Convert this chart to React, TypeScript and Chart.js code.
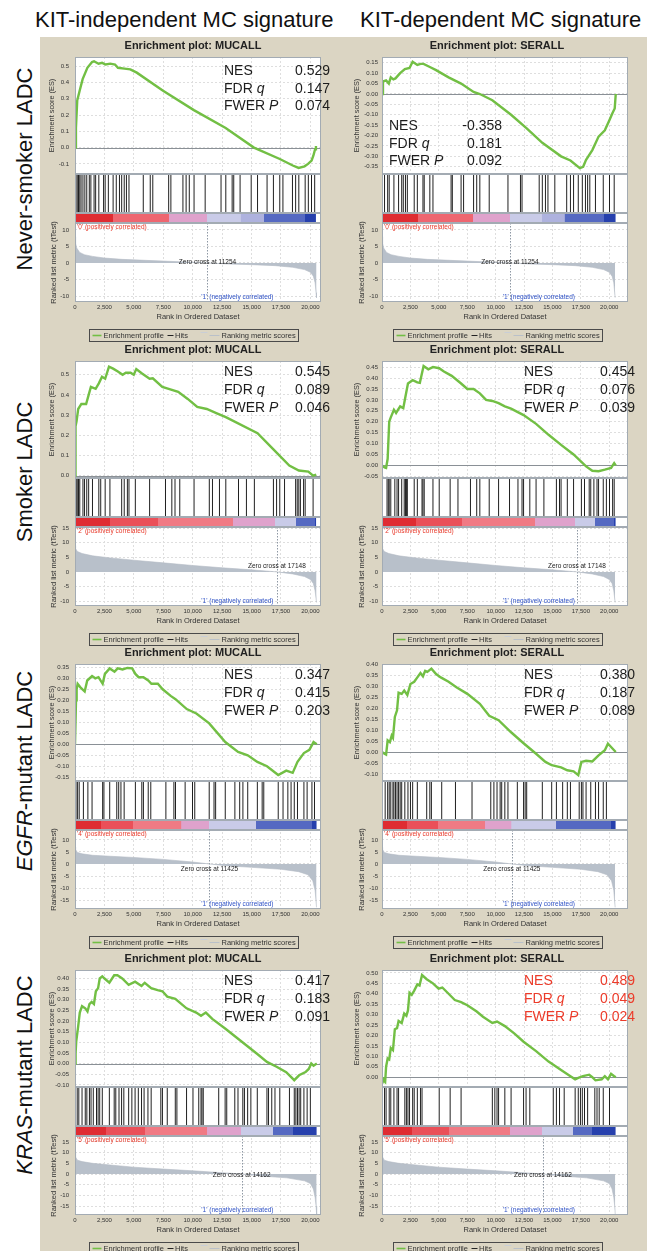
import React, { useEffect, useRef } from "react";
import { Chart, registerables } from "chart.js";

Chart.register(...registerables);

const FONT = '"Liberation Sans", Arial, Helvetica, sans-serif';
Chart.defaults.font.family = FONT;

type Pt = [number, number];

// ---------------- texts ----------------
const columnHeaders = ["KIT-independent MC signature", "KIT-dependent MC signature"];
const rowLabels: [string, string][] = [
  ["", "Never-smoker LADC"],
  ["", "Smoker LADC"],
  ["EGFR", "-mutant LADC"],
  ["KRAS", "-mutant LADC"],
];
const plotTitles = ["Enrichment plot: MUCALL", "Enrichment plot: SERALL"];
const positiveLabels = [
  "'0' (positively correlated)",
  "'2' (positively correlated)",
  "'4' (positively correlated)",
  "'5' (positively correlated)",
];
const negativeLabel = "'1' (negatively correlated)";
const legendLabels = ["Enrichment profile", "Hits", "Ranking metric scores"];
const statLabels: [string, string][] = [["NES", ""], ["FDR ", "q"], ["FWER ", "P"]];
const esAxisTitle = "Enrichment score (ES)";
const metricAxisTitle = "Ranked list metric (tTest)";
const rankAxisTitle = "Rank in Ordered Dataset";

// ---------------- shared axis ticks ----------------
const rankTicks = [0, 2500, 5000, 7500, 10000, 12500, 15000, 17500, 20000];
const zeroCross = [11254, 17148, 11425, 14162];

// ---------------- stats ----------------
const statsNeverMucall = ["0.529", "0.147", "0.074"];
const statsNeverSerall = ["-0.358", "0.181", "0.092"];
const statsSmokerMucall = ["0.545", "0.089", "0.046"];
const statsSmokerSerall = ["0.454", "0.076", "0.039"];
const statsEgfrMucall = ["0.347", "0.415", "0.203"];
const statsEgfrSerall = ["0.380", "0.187", "0.089"];
const statsKrasMucall = ["0.417", "0.183", "0.091"];
const statsKrasSerall = ["0.489", "0.049", "0.024"];

// ---------------- ES tick labels ----------------
const esTicksNeverMucall = [-0.1, 0, 0.1, 0.2, 0.3, 0.4, 0.5];
const esTicksNeverSerall = [-0.35, -0.3, -0.25, -0.2, -0.15, -0.1, -0.05, 0, 0.05, 0.1, 0.15];
const esTicksSmokerMucall = [0, 0.1, 0.2, 0.3, 0.4, 0.5];
const esTicksSmokerSerall = [-0.05, 0, 0.05, 0.1, 0.15, 0.2, 0.25, 0.3, 0.35, 0.4, 0.45];
const esTicksEgfrMucall = [-0.15, -0.1, -0.05, 0, 0.05, 0.1, 0.15, 0.2, 0.25, 0.3, 0.35];
const esTicksEgfrSerall = [-0.1, -0.05, 0, 0.05, 0.1, 0.15, 0.2, 0.25, 0.3, 0.35, 0.4];
const esTicksKrasMucall = [-0.1, -0.05, 0, 0.05, 0.1, 0.15, 0.2, 0.25, 0.3, 0.35, 0.4];
const esTicksKrasSerall = [0, 0.05, 0.1, 0.15, 0.2, 0.25, 0.3, 0.35, 0.4, 0.45, 0.5];

// ---------------- metric tick labels ----------------
const metricTicksNever = [-10, -5, 0, 5, 10];
const metricTicksSmoker = [-10, -5, 0, 5, 10, 15];
const metricTicksEgfr = [-15, -10, -5, 0, 5, 10];
const metricTicksKras = [-15, -10, -5, 0, 5, 10, 15];

// ---------------- enrichment profiles [rank, ES] ----------------
const esNeverMucall: Pt[] = [[0,0],[80,0.12],[190,0.29],[400,0.35],[650,0.42],[1050,0.49],[1450,0.525],[1620,0.53],[2000,0.515],[2300,0.52],[2600,0.51],[3000,0.515],[3400,0.51],[3650,0.49],[4200,0.485],[4700,0.48],[5250,0.46],[7450,0.35],[10100,0.23],[12800,0.12],[15200,0.0],[17400,-0.07],[18500,-0.11],[19000,-0.125],[19500,-0.115],[19800,-0.1],[20100,-0.08],[20250,-0.05],[20400,-0.01],[20470,0.01]];
const esNeverSerall: Pt[] = [[0,0],[85,0.06],[360,0.065],[600,0.05],[772,0.08],[1000,0.07],[1185,0.075],[1597,0.1],[2010,0.12],[2422,0.125],[2697,0.155],[3110,0.14],[3400,0.145],[3660,0.145],[4210,0.13],[4760,0.115],[5860,0.08],[6960,0.05],[8060,0.01],[8610,0.0],[9710,-0.03],[11360,-0.1],[12735,-0.165],[14110,-0.235],[15760,-0.3],[16585,-0.32],[17410,-0.357],[17700,-0.35],[17960,-0.317],[18510,-0.27],[19060,-0.205],[19610,-0.175],[20022,-0.125],[20297,-0.09],[20480,-0.07],[20572,0.0]];
const esSmokerMucall: Pt[] = [[0,0],[30,0.12],[60,0.245],[136,0.27],[271,0.33],[541,0.355],[945,0.355],[1161,0.4],[1350,0.44],[1754,0.43],[2024,0.457],[2294,0.49],[2563,0.48],[2887,0.54],[3238,0.53],[3642,0.516],[4047,0.5],[4316,0.51],[4721,0.51],[4991,0.5],[5206,0.528],[5665,0.507],[6339,0.48],[6609,0.482],[7418,0.44],[7957,0.43],[8767,0.415],[9576,0.38],[10385,0.34],[11194,0.33],[12003,0.31],[12812,0.29],[15509,0.21],[16857,0.13],[18206,0.05],[19015,0.025],[19824,0.02],[20229,0.0],[20498,0.005]];
const esSmokerSerall: Pt[] = [[0,0],[223,-0.01],[360,-0.012],[498,0.03],[635,0.2],[773,0.22],[1048,0.255],[1240,0.24],[1598,0.27],[1873,0.262],[2065,0.315],[2285,0.375],[2698,0.39],[3110,0.38],[3330,0.378],[3660,0.455],[4073,0.44],[4485,0.45],[5035,0.445],[5448,0.43],[6135,0.41],[6960,0.375],[7510,0.35],[8060,0.35],[8610,0.33],[9160,0.3],[9710,0.295],[10260,0.285],[10810,0.27],[11360,0.26],[11910,0.245],[12460,0.23],[13560,0.19],[14660,0.14],[15760,0.094],[16860,0.05],[17960,-0.005],[18510,-0.025],[19060,-0.027],[19610,-0.02],[20160,-0.012],[20435,0.01],[20573,0.0]];
const esEgfrMucall: Pt[] = [[0,0],[86,0.2],[140,0.25],[222,0.275],[440,0.26],[822,0.24],[1040,0.29],[1449,0.31],[1722,0.3],[1994,0.305],[2349,0.275],[2540,0.32],[2949,0.345],[3358,0.33],[3631,0.345],[4040,0.34],[4449,0.347],[4858,0.345],[5130,0.32],[5403,0.305],[5812,0.305],[6221,0.29],[6494,0.275],[7039,0.275],[7448,0.25],[8130,0.22],[8539,0.205],[9494,0.16],[10312,0.14],[11403,0.095],[12766,0.01],[13857,-0.035],[14675,-0.05],[15493,-0.08],[16311,-0.1],[17266,-0.14],[17948,-0.12],[18494,-0.13],[18903,-0.08],[19448,-0.04],[19912,-0.025],[20266,0.01],[20538,0.0]];
const esEgfrSerall: Pt[] = [[0,0],[223,-0.008],[360,-0.012],[498,0.053],[690,0.045],[855,0.075],[965,0.065],[1130,0.16],[1323,0.19],[1460,0.27],[1735,0.265],[1955,0.28],[2230,0.26],[2505,0.31],[2835,0.32],[3110,0.34],[3385,0.36],[3605,0.345],[3798,0.37],[3990,0.365],[4348,0.38],[4760,0.355],[5173,0.34],[5860,0.32],[6548,0.295],[7510,0.265],[8610,0.22],[9435,0.165],[10260,0.145],[11360,0.09],[12460,0.04],[13560,-0.008],[14385,-0.045],[14935,-0.06],[15760,-0.07],[16310,-0.083],[16860,-0.088],[17273,-0.105],[17548,-0.045],[17960,-0.04],[18510,-0.043],[19060,-0.015],[19610,0.008],[19885,0.038],[20160,0.023],[20573,0.0]];
const esKrasMucall: Pt[] = [[0,0],[51,0.05],[106,0.105],[270,0.175],[407,0.24],[598,0.27],[871,0.26],[1062,0.245],[1226,0.28],[1417,0.29],[1608,0.28],[1772,0.34],[1964,0.355],[2100,0.4],[2319,0.41],[2510,0.4],[2919,0.38],[3330,0.415],[3603,0.415],[4013,0.4],[4559,0.37],[5105,0.385],[5652,0.365],[5925,0.38],[6471,0.355],[7018,0.345],[7428,0.34],[7838,0.315],[8521,0.305],[9477,0.26],[10296,0.24],[10706,0.225],[11116,0.24],[11663,0.21],[12755,0.165],[14121,0.105],[15487,0.045],[16307,0.008],[17126,-0.015],[17946,-0.04],[18629,-0.078],[19039,-0.055],[19585,-0.04],[19858,-0.025],[20077,0.0],[20268,-0.01],[20541,0.0]];
const esKrasSerall: Pt[] = [[0,0],[85,-0.01],[278,-0.022],[360,0.05],[498,0.09],[635,0.085],[773,0.14],[965,0.13],[1130,0.23],[1323,0.235],[1460,0.27],[1735,0.26],[1955,0.305],[2148,0.295],[2285,0.32],[2423,0.405],[2615,0.395],[2835,0.415],[3110,0.445],[3303,0.44],[3523,0.49],[3935,0.47],[4485,0.45],[4980,0.425],[5310,0.43],[5860,0.4],[6410,0.37],[6960,0.36],[7510,0.345],[8335,0.315],[8885,0.29],[9710,0.26],[10123,0.267],[10810,0.245],[11635,0.21],[12460,0.17],[13560,0.125],[14660,0.075],[15760,0.035],[16585,0.005],[16998,-0.01],[17273,-0.003],[17685,0.005],[18235,0.012],[18510,0.0],[18785,-0.015],[19335,-0.01],[19610,0.005],[19885,-0.01],[20160,0.016],[20435,0.005],[20573,0.0]];

// ---------------- hits (ranks of gene-set members) ----------------
const hitsNeverMucall = [82,190,298,406,514,675,837,999,1215,1350,1620,1754,2024,2429,2563,2833,3238,3507,3777,3966,4182,4370,4586,5800,6393,6609,7957,8146,9170,9440,9710,10115,11059,12407,12812,13351,13486,14025,14969,15509,16318,16857,17397,17666,18475,18745,19015,19554,19824,20093,20363];
const hitsNeverSerall = [223,498,635,1048,1460,1735,1873,2065,2230,2835,3110,3605,3715,4210,4485,6080,6190,6960,7180,8060,8335,8610,9435,11085,12185,12323,13835,14110,14385,14605,15210,16255,16585,16860,17273,17630,17905,18098,18290,18785,19473,20023,20435];
const hitsSmokerMucall = [30,100,190,298,406,675,810,999,1161,1485,2024,2186,2563,2968,3966,4182,4451,4586,5126,6339,7688,8227,8497,8901,10115,11410,11680,12273,12812,13891,14565,15239,16857,17127,17397,17802,18745,18880,19015,19150,19420,19554,20229];
const hitsSmokerSerall = [443,553,635,773,1130,1323,1460,1735,1955,2065,2148,2230,2835,3110,3523,3605,3715,4485,5035,5998,6685,7785,8335,8610,9435,10260,11223,11965,12323,12460,13010,13560,14248,15348,15623,15760,16310,16860,17548,17823,18235,18373,18648,18923,19060,19473,19748,20023,20298,20435];
const hitsEgfrMucall = [86,222,358,713,1094,1449,2349,2458,2949,3549,3712,3903,4176,5130,5676,5812,6221,6439,7721,8403,8539,9357,9984,10175,11403,11812,11948,12766,13584,13993,14266,14675,15493,15902,16038,17266,17675,18084,18357,18629,18902,19448,19720,20129,20347];
const hitsEgfrSerall = [278,498,635,773,965,1048,1185,1323,1460,1598,1735,2010,2285,2505,2698,3110,3935,4210,4348,5255,6465,7923,9573,9848,10123,10398,10535,10810,11085,11910,12460,12598,12735,14110,14935,15348,15898,16310,16585,17355,17548,17685,17960,18373,18785,19060,19473,19748];
const hitsKrasMucall = [188,324,598,871,1007,1226,1363,1554,1827,1964,2100,2319,2919,3330,3466,3739,3958,4149,4559,4832,5105,5379,5652,5870,6198,6471,7291,7428,7838,8521,8657,9477,10023,10515,10706,10788,10897,12209,12755,12892,13575,13848,14258,14395,14668,14941,15487,16307,16443,16716,16990,17400,18219,18629,18766,18902,19039,19176,19449,19722,19995];
const hitsKrasSerall = [223,360,635,773,1048,1323,1460,2010,2148,2285,2423,2698,2835,3110,3385,3523,5035,5998,6960,9710,9930,10123,10260,10810,11360,12460,12680,13010,15073,15348,15623,16035,16998,17273,17465,17630,17823,18098,18730,18923,19115,19473,20023];

// ---------------- ranked list metric [rank, tTest] ----------------
const metricNever: Pt[] = [[0,8],[50,6],[150,4.5],[400,3.2],[800,2.5],[1500,2],[2500,1.5],[4000,1.1],[6000,0.8],[8000,0.5],[10000,0.2],[11254,0],[13000,-0.3],[15000,-0.5],[17000,-0.8],[18500,-1.3],[19500,-2],[20000,-2.8],[20250,-4],[20400,-6],[20480,-9],[20520,-10.5]];
const metricSmoker: Pt[] = [[0,9],[50,8],[200,7],[600,6.3],[1500,5.5],[3000,4.8],[5000,4],[7500,3.1],[10000,2.2],[12500,1.4],[15000,0.7],[17148,0],[18500,-0.7],[19500,-1.6],[20000,-2.6],[20250,-4],[20400,-6.5],[20520,-10.5]];
const metricEgfr: Pt[] = [[0,7],[50,6],[200,4.8],[600,4.2],[1500,3.6],[3000,3.2],[5000,2.7],[7500,1.9],[10000,0.8],[11425,0],[13000,-0.8],[15000,-1.4],[17500,-2.2],[19000,-3.2],[19800,-4.5],[20200,-7],[20400,-11],[20520,-18]];
const metricKras: Pt[] = [[0,10],[50,8],[200,6.5],[600,5.8],[1500,5],[3000,4.2],[5000,3.2],[7500,2.3],[10000,1.5],[12500,0.6],[14162,0],[16000,-1],[18000,-1.8],[19500,-3.2],[20000,-4.5],[20250,-7],[20400,-11],[20480,-15],[20530,-19]];

// ---------------- colour bar segments (start ranks) ----------------
const colorbarNever = [0, 3200, 8000, 11250, 14070, 16070, 19580];
const colorbarSmoker = [0, 3000, 7050, 13450, 17000, 18770, 20400];
const colorbarEgfr = [0, 2200, 4950, 9050, 11400, 15350, 20130];
const colorbarKras = [0, 2646, 5925, 11252, 14121, 16853, 18492];
const colorbarColorsNever = ["#df2c32", "#ee6670", "#dfa2cc", "#c9cbe8", "#aeb2de", "#5569c2", "#2640ad"];
const colorbarColorsOther = ["#df2c32", "#ea5059", "#f07a84", "#dfa2cc", "#c9cbe8", "#5569c2", "#2640ad"];

// ---------------- styling ----------------
const BEIGE = "#dbd5c3";
const GREEN = "#72bf44";
const GRID = "#dedede";
const BORDER = "#a3abb3";
const rowTops = [46, 350, 653, 959];

interface RowCfg { metric: Pt[]; mMin: number; mMax: number; mTicks: number[]; bounds: number[]; colors: string[]; }
const rowCfgs: RowCfg[] = [
  { metric: metricNever, mMin: -11.8, mMax: 12.1, mTicks: metricTicksNever, bounds: colorbarNever, colors: colorbarColorsNever },
  { metric: metricSmoker, mMin: -11.7, mMax: 15.4, mTicks: metricTicksSmoker, bounds: colorbarSmoker, colors: colorbarColorsOther },
  { metric: metricEgfr, mMin: -18.7, mMax: 14.1, mTicks: metricTicksEgfr, bounds: colorbarEgfr, colors: colorbarColorsOther },
  { metric: metricKras, mMin: -19.2, mMax: 17.8, mTicks: metricTicksKras, bounds: colorbarKras, colors: colorbarColorsOther },
];

interface PanelCfg {
  row: number; col: number; es: Pt[]; hits: number[];
  esMin: number; esMax: number; esTicks: number[]; dec: number;
  stats: string[]; anchor: [number, number, number]; red: boolean;
}

const panels: PanelCfg[] = [
  { row: 0, col: 0, es: esNeverMucall, hits: hitsNeverMucall, esMin: -0.162, esMax: 0.556, esTicks: esTicksNeverMucall, dec: 1, stats: statsNeverMucall, anchor: [184, 290, 33], red: false },
  { row: 0, col: 1, es: esNeverSerall, hits: hitsNeverSerall, esMin: -0.385, esMax: 0.178, esTicks: esTicksNeverSerall, dec: 2, stats: statsNeverSerall, anchor: [49, 162, 88], red: false },
  { row: 1, col: 0, es: esSmokerMucall, hits: hitsSmokerMucall, esMin: -0.012, esMax: 0.568, esTicks: esTicksSmokerMucall, dec: 1, stats: statsSmokerMucall, anchor: [184, 290, 30.5], red: false },
  { row: 1, col: 1, es: esSmokerSerall, hits: hitsSmokerSerall, esMin: -0.058, esMax: 0.478, esTicks: esTicksSmokerSerall, dec: 2, stats: statsSmokerSerall, anchor: [184, 295, 30.5], red: false },
  { row: 2, col: 0, es: esEgfrMucall, hits: hitsEgfrMucall, esMin: -0.167, esMax: 0.365, esTicks: esTicksEgfrMucall, dec: 2, stats: statsEgfrMucall, anchor: [184, 290, 30.5], red: false },
  { row: 2, col: 1, es: esEgfrSerall, hits: hitsEgfrSerall, esMin: -0.132, esMax: 0.401, esTicks: esTicksEgfrSerall, dec: 2, stats: statsEgfrSerall, anchor: [184, 295, 30.5], red: false },
  { row: 3, col: 0, es: esKrasMucall, hits: hitsKrasMucall, esMin: -0.11, esMax: 0.44, esTicks: esTicksKrasMucall, dec: 2, stats: statsKrasMucall, anchor: [184, 290, 30.5], red: false },
  { row: 3, col: 1, es: esKrasSerall, hits: hitsKrasSerall, esMin: -0.047, esMax: 0.514, esTicks: esTicksKrasSerall, dec: 2, stats: statsKrasSerall, anchor: [184, 295, 30.5], red: true },
];

const CANVAS_H = 304;

function fmt(v: number, d: number) {
  const x = Math.abs(v) < 1e-9 ? 0 : v;
  return x.toFixed(d);
}

function makeConfig(p: PanelCfg): any {
  const r = rowCfgs[p.row];
  const isLeft = p.col === 0;
  const axisW = isLeft ? 35 : 42;
  const xMax = isLeft ? 20900 : 21650;
  const end = p.es[p.es.length - 1][0];
  const centerX = isLeft ? 153 : 157;
  const fitW = (s: any) => { s.width = axisW; };
  const tickFont = { size: 6, family: FONT };

  const colorbarFill = (ctx: any) => {
    const chart = ctx.chart;
    const xs = chart.scales && chart.scales.x;
    if (!xs) return r.colors[0];
    const x0 = xs.getPixelForValue(0);
    const x1 = xs.getPixelForValue(end);
    if (!isFinite(x0) || !isFinite(x1) || x1 <= x0) return r.colors[0];
    const g = chart.ctx.createLinearGradient(x0, 0, x1, 0);
    r.bounds.forEach((b, i) => {
      const s = Math.min(b / end, 1);
      const e = i + 1 < r.bounds.length ? Math.min(r.bounds[i + 1] / end, 1) : 1;
      g.addColorStop(s, r.colors[i]);
      g.addColorStop(Math.max(s, e - 0.0005), r.colors[i]);
    });
    return g;
  };

  const decor = {
    id: "decor",
    beforeDraw(chart: any) {
      const { ctx, chartArea: a } = chart;
      ctx.save();
      ctx.fillStyle = "#ffffff";
      ctx.fillRect(a.left, a.top, a.right - a.left, a.bottom - a.top);
      ctx.restore();
    },
    beforeDatasetsDraw(chart: any) {
      const { ctx, chartArea: a, scales } = chart;
      const h = scales.yHits, c = scales.yColor, es = scales.yES, m = scales.yMetric, x = scales.x;
      ctx.save();
      ctx.fillStyle = "#ffffff";
      ctx.fillRect(a.left, h.top, a.right - a.left, c.bottom - h.top);
      const y0 = Math.round(es.getPixelForValue(0)) + 0.5;
      ctx.strokeStyle = "#8a9096";
      ctx.lineWidth = 1;
      ctx.beginPath(); ctx.moveTo(a.left, y0); ctx.lineTo(a.right, y0); ctx.stroke();
      const zx = Math.round(x.getPixelForValue(zeroCross[p.row])) + 0.5;
      ctx.setLineDash([1.5, 1.5]);
      ctx.strokeStyle = "#8e98a4";
      ctx.beginPath(); ctx.moveTo(zx, m.top); ctx.lineTo(zx, m.bottom); ctx.stroke();
      ctx.restore();
    },
    afterDraw(chart: any) {
      const { ctx, chartArea: a, scales } = chart;
      const es = scales.yES, h = scales.yHits, c = scales.yColor, m = scales.yMetric, x = scales.x;
      ctx.save();
      ctx.strokeStyle = BORDER; ctx.lineWidth = 1;
      const L = Math.round(a.left) + 0.5, R = Math.round(a.right) - 0.5;
      [es, h, c, m].forEach((s: any) => {
        const T = Math.round(s.top) + 0.5, B = Math.round(s.bottom) - 0.5;
        ctx.strokeRect(L, T, R - L, B - T);
      });
      ctx.fillStyle = "#222";
      ctx.font = `bold 11px ${FONT}`;
      ctx.textAlign = "center"; ctx.textBaseline = "middle";
      ctx.fillText(plotTitles[p.col], centerX, 8);
      const [lx, vr, y0] = p.anchor;
      ctx.fillStyle = p.red ? "#ec3b2a" : "#1c1c1c";
      statLabels.forEach(([lab, it], i) => {
        const y = y0 + i * 17.8;
        ctx.font = `14px ${FONT}`; ctx.textAlign = "left";
        ctx.fillText(lab, lx, y);
        if (it) {
          const w = ctx.measureText(lab).width;
          ctx.font = `italic 14px ${FONT}`;
          ctx.fillText(it, lx + w, y);
        }
        ctx.font = `14px ${FONT}`; ctx.textAlign = "right";
        ctx.fillText(p.stats[i], vr, y);
      });
      ctx.font = `6.5px ${FONT}`;
      ctx.textAlign = "left"; ctx.fillStyle = "#e8392a";
      ctx.fillText(positiveLabels[p.row], a.left + 2, c.bottom + 4.5);
      ctx.textAlign = "center"; ctx.fillStyle = "#2f52c6";
      ctx.fillText(negativeLabel, x.getPixelForValue(13800), m.bottom - 5);
      ctx.fillStyle = "#222";
      ctx.fillText("Zero cross at " + zeroCross[p.row], x.getPixelForValue(zeroCross[p.row]), (m.top + m.bottom) / 2);
      const lw = 209, lh = 12;
      const bl = Math.round(centerX - lw / 2) + 0.5, bt = 291.5;
      ctx.strokeStyle = "#4a4a4a"; ctx.lineWidth = 1;
      ctx.strokeRect(bl, bt, lw, lh);
      const yc = bt + lh / 2;
      const seg = (x0: number, x1: number, yy: number, col: string, lwid: number) => {
        ctx.strokeStyle = col; ctx.lineWidth = lwid;
        ctx.beginPath(); ctx.moveTo(bl + x0, yy); ctx.lineTo(bl + x1, yy); ctx.stroke();
      };
      seg(3, 12, yc, GREEN, 1.6);
      seg(78, 84, yc, "#222", 1);
      seg(111, 118, yc - 3, "#c9ced6", 1);
      seg(120, 130, yc, "#b9c0c9", 1);
      ctx.font = `7.5px ${FONT}`; ctx.fillStyle = "#333"; ctx.textAlign = "left";
      ctx.fillText(legendLabels[0], bl + 14, yc);
      ctx.fillText(legendLabels[1], bl + 85.5, yc);
      ctx.fillText(legendLabels[2], bl + 132, yc);
      ctx.restore();
    },
  };

  const yBase = (weight: number, stackWeight: number) => ({
    type: "linear",
    position: "left",
    stack: "gsea",
    stackWeight,
    weight,
    afterFit: fitW,
    border: { display: false, dash: [2, 2] },
  });

  return {
    type: "scatter",
    data: {
      datasets: [
        {
          label: legendLabels[0],
          data: p.es.map(([rx, v]) => ({ x: rx, y: v })),
          yAxisID: "yES",
          showLine: true,
          borderColor: GREEN,
          borderWidth: 2.4,
          pointRadius: 0,
          fill: false,
        },
        {
          label: legendLabels[1],
          data: p.hits.map((rx) => ({ x: rx, y: 0.5 })),
          yAxisID: "yHits",
          showLine: false,
          pointStyle: "line",
          pointRotation: 90,
          pointRadius: (ctx: any) => {
            const s = ctx.chart.scales && ctx.chart.scales.yHits;
            const v = s ? (s.bottom - s.top) / 2 - 1 : 18;
            return isFinite(v) && v > 0 ? v : 18;
          },
          pointBorderColor: "#202020",
          pointBackgroundColor: "#202020",
          pointBorderWidth: 1,
        },
        {
          label: legendLabels[2],
          data: r.metric.map(([rx, v]) => ({ x: rx, y: v })),
          yAxisID: "yMetric",
          showLine: true,
          borderColor: "#b3bbc5",
          borderWidth: 0.6,
          backgroundColor: "#b8c0ca",
          pointRadius: 0,
          fill: "origin",
        },
        {
          label: "colorbar",
          data: [{ x: 0, y: 1 }, { x: end, y: 1 }],
          yAxisID: "yColor",
          showLine: true,
          borderWidth: 0,
          borderColor: "rgba(0,0,0,0)",
          pointRadius: 0,
          fill: "origin",
          backgroundColor: colorbarFill,
        },
      ],
    },
    options: {
      responsive: false,
      animation: false,
      events: [],
      layout: { padding: { left: 0, right: isLeft ? 7 : 2, top: 19, bottom: 18 } },
      plugins: { legend: { display: false }, tooltip: { enabled: false }, title: { display: false } },
      scales: {
        x: {
          type: "linear",
          position: "bottom",
          min: 0,
          max: xMax,
          afterBuildTicks: (s: any) => { s.ticks = rankTicks.map((v) => ({ value: v })); },
          afterFit: (s: any) => { s.height = 22; },
          ticks: {
            font: tickFont, color: "#333", padding: 2, maxRotation: 0, autoSkip: false,
            callback: (v: any) => Number(v).toLocaleString("en-US"),
          },
          grid: { color: GRID, drawTicks: false },
          border: { display: false, dash: [2, 2] },
          title: { display: true, text: rankAxisTitle, color: "#333", font: { size: 7.5, family: FONT }, padding: { top: 0, bottom: 2.2 } },
        },
        yES: {
          ...yBase(4, 117),
          min: p.esMin,
          max: p.esMax,
          afterBuildTicks: (s: any) => { s.ticks = p.esTicks.map((v) => ({ value: v })); },
          ticks: { font: tickFont, color: "#333", padding: isLeft ? 6 : 4, autoSkip: false, callback: (v: any) => fmt(Number(v), p.dec) },
          grid: { color: GRID, drawTicks: false },
          title: { display: true, text: esAxisTitle, color: "#333", font: { size: 7.3, family: FONT }, padding: { top: isLeft ? 7.3 : 12.3, bottom: 0 } },
        },
        yHits: {
          ...yBase(3, 39),
          min: 0, max: 1,
          ticks: { display: false },
          grid: { display: false },
        },
        yColor: {
          ...yBase(2, 10),
          min: 0, max: 1,
          ticks: { display: false },
          grid: { display: false },
        },
        yMetric: {
          ...yBase(1, 79),
          min: r.mMin,
          max: r.mMax,
          afterBuildTicks: (s: any) => { s.ticks = r.mTicks.map((v) => ({ value: v })); },
          ticks: { font: tickFont, color: "#333", padding: isLeft ? 6 : 4, autoSkip: false, callback: (v: any) => String(v) },
          grid: { color: GRID, drawTicks: false },
          title: { display: true, text: metricAxisTitle, color: "#333", font: { size: 7.5, family: FONT }, padding: { top: isLeft ? 9.8 : 17.2, bottom: 0 } },
        },
      },
    },
    plugins: [decor],
  };
}

function Panel({ p }: { p: PanelCfg }) {
  const ref = useRef<HTMLCanvasElement | null>(null);
  const isLeft = p.col === 0;
  const left = isLeft ? 40 : 340;
  const width = isLeft ? 300 : 307;
  const top = rowTops[p.row] - 8;
  useEffect(() => {
    if (!ref.current) return;
    let chart: Chart | null = null;
    try {
      chart = new Chart(ref.current, makeConfig(p));
    } catch (e) {
      console.error(e);
    }
    return () => { if (chart) chart.destroy(); };
  }, []);
  return (
    <canvas
      ref={ref}
      width={width}
      height={CANVAS_H}
      style={{ position: "absolute", left, top, width, height: CANVAS_H }}
    />
  );
}

const rowCenters = [169, 472, 771, 1075];

export default function App() {
  return (
    <div
      style={{
        position: "absolute", left: 0, top: 0, width: 647, height: 1251,
        overflow: "hidden", background: "#ffffff", fontFamily: FONT,
      }}
    >
      <div style={{ position: "absolute", left: 40, top: 37, width: 607, height: 1214, background: BEIGE }} />
      {columnHeaders.map((t, i) => (
        <div
          key={t}
          style={{
            position: "absolute", left: i === 0 ? 35 : 360, top: 7.4, height: 26, lineHeight: "26px",
            fontSize: 22, whiteSpace: "nowrap", color: "#111",
          }}
        >
          {t}
        </div>
      ))}
      {rowLabels.map(([it, rest], i) => (
        <div
          key={i}
          style={{
            position: "absolute", left: 25.4 - 150, top: rowCenters[i] - 13, width: 300, height: 26,
            lineHeight: "26px", fontSize: 22, textAlign: "center", whiteSpace: "nowrap",
            transform: "rotate(-90deg)", color: "#111",
          }}
        >
          {it ? <i>{it}</i> : null}
          {rest}
        </div>
      ))}
      {panels.map((p, i) => (
        <Panel key={i} p={p} />
      ))}
    </div>
  );
}
